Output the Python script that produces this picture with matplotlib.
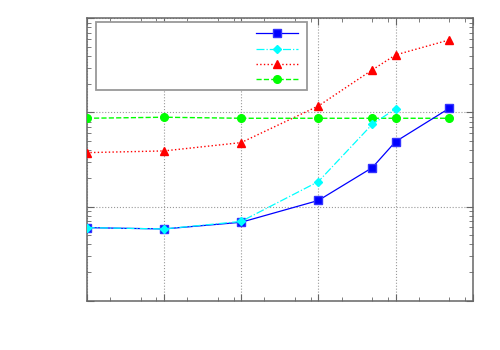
import matplotlib
matplotlib.use("Agg")
import matplotlib.pyplot as plt
from matplotlib.patches import Rectangle
from matplotlib.ticker import LogLocator, NullFormatter

x = [1, 10, 100, 1000, 5000, 10000, 50000]
blue = [5.97, 5.78, 6.81, 11.6, 25.9, 48.9, 111]
cyan = [5.97, 5.78, 6.95, 18.4, 74.9, 109]
red = [37.4, 39.0, 47.8, 117, 283, 408, 590]
green = [86.7, 88.9, 86.7, 86.7, 86.7, 86.7, 86.7]
labels = ["", "", "", ""]

fig = plt.figure(figsize=(5, 3.5), dpi=100)
ax = fig.add_axes([0.1734, 0.1409, 0.772, 0.8068])

h1, = ax.plot(x, blue, "-", color="#0000ff", lw=0.9, marker="s", ms=5.5,
              mfc="#0000ff", mec="#3333ff", zorder=5)
h2, = ax.plot(x[:len(cyan)], cyan, "-.", color="#00ffff", lw=0.9, marker="D", ms=4.5,
              mfc="#00ffff", mec="#00ffff", zorder=6)
h3, = ax.plot(x, red, ":", color="#ff0000", lw=1.0, marker="^", ms=5.5,
              mfc="#ff0000", mec="#ff0000", zorder=4)
h4, = ax.plot(x, green, "--", color="#00ff00", lw=1.0, marker="o", ms=5.5,
              mfc="#00ff00", mec="#00ff00", zorder=4)

ax.set_xscale("log")
ax.set_yscale("log")
ax.set_xlim(1, 1e5)
ax.set_ylim(1, 1000)

ax.xaxis.set_major_locator(LogLocator(base=10, numticks=10))
ax.xaxis.set_minor_locator(LogLocator(base=10, subs=(2, 5, 8), numticks=10))
ax.yaxis.set_major_locator(LogLocator(base=10, numticks=10))
ax.yaxis.set_minor_locator(LogLocator(base=10, subs=range(2, 10), numticks=10))
ax.xaxis.set_major_formatter(NullFormatter())
ax.xaxis.set_minor_formatter(NullFormatter())
ax.yaxis.set_major_formatter(NullFormatter())
ax.yaxis.set_minor_formatter(NullFormatter())
ax.tick_params(which="both", direction="in", top=True, right=True, colors="#666666")
ax.tick_params(which="major", length=5, width=0.8)
ax.tick_params(which="minor", length=3, width=0.6)

ax.grid(True, which="major", color="#999999", ls=":", lw=0.8)
ax.set_axisbelow(True)
for s in ax.spines.values():
    s.set_color("#666666")
    s.set_linewidth(1.1)

box = Rectangle((0.0241, 0.746), 0.5459, 0.2398, transform=ax.transAxes,
                facecolor="white", edgecolor="#999999", lw=1.3, zorder=7)
ax.add_patch(box)

leg = ax.legend([h1, h2, h3, h4], labels, loc="upper right",
                bbox_to_anchor=(0.547, 0.968), frameon=False, markerfirst=False,
                handlelength=3.0, handletextpad=0, labelspacing=0.08,
                borderpad=0, borderaxespad=0, fontsize=10)
leg.set_zorder(8)

fig.savefig("out.png", dpi=100)
